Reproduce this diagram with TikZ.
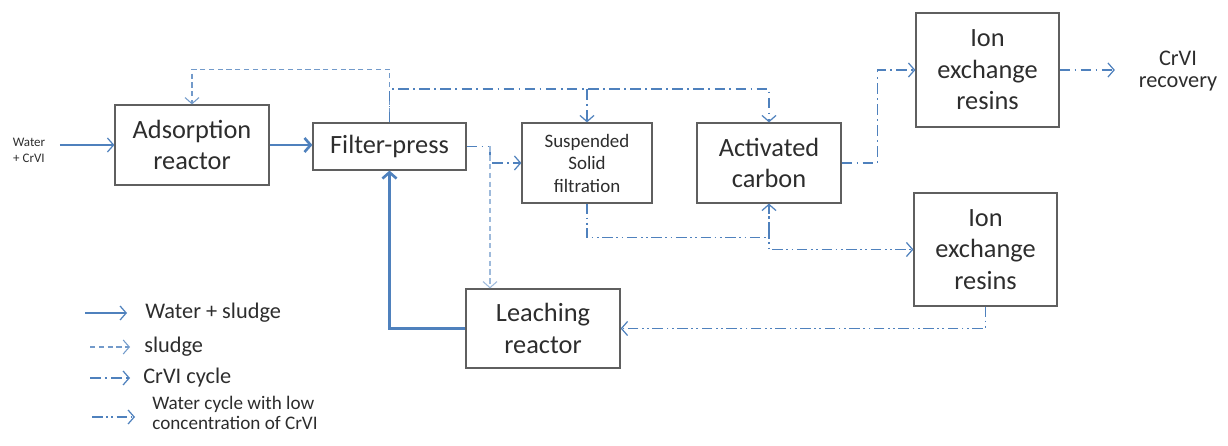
\documentclass[tikz,border=0pt]{standalone}
\usepackage{fontspec}
\setmainfont{Carlito}
\usetikzlibrary{arrows.meta}
\definecolor{flowblue}{RGB}{79,129,189}
\definecolor{boxgray}{RGB}{95,95,95}
\definecolor{txtgray}{RGB}{45,45,45}

\begin{document}
\begin{tikzpicture}[x=0.02cm,y=-0.02cm,
    box/.style={draw=boxgray,line width=0.7pt,align=center,text=txtgray,
        font=\fontsize{15}{18}\selectfont,inner sep=1pt},
    tip/.style={-{Straight Barb[length=3.5pt,width=8pt]}},
    water/.style={tip,draw=flowblue,line width=0.7pt},
    thickwater/.style={water,line width=1.5pt},
    sludge/.style={tip,draw=flowblue!80,line width=0.6pt,dash pattern=on 3pt off 2pt},
    crvi/.style={tip,draw=flowblue,line width=0.7pt,dash pattern=on 6pt off 2.5pt on 1pt off 2.5pt},
    lowcr/.style={tip,draw=flowblue,line width=0.7pt,dash pattern=on 6pt off 2pt on 1pt off 2pt on 1pt off 2pt},
    legtext/.style={anchor=west,text=txtgray,inner sep=0pt,align=left,
        font=\fontsize{12.7}{14}\selectfont}]
    \useasboundingbox (0,0) rectangle (1228,446);

    % process boxes
    \node[box,minimum width=3.08cm,minimum height=1.6cm] (ads) at (192,145) {Adsorption\\reactor};
    \node[box,minimum width=3.06cm,minimum height=0.94cm] (fp) at (389.5,146.5) {Filter-press};
    \node[box,minimum width=2.6cm,minimum height=1.6cm,font=\fontsize{10.8}{12.8}\selectfont] (ss) at (587,163) {Suspended\\Solid\\filtration};
    \node[box,minimum width=2.88cm,minimum height=1.6cm] (carbon) at (769,163) {Activated\\carbon};
    \node[box,minimum width=2.86cm,minimum height=2.28cm] (ion1) at (987.5,70) {Ion\\exchange\\resins};
    \node[box,minimum width=2.86cm,minimum height=2.26cm] (ion2) at (985.5,249.5) {Ion\\exchange\\resins};
    \node[box,minimum width=3.08cm,minimum height=1.58cm] (leach) at (543,328.5) {Leaching\\reactor};

    % in and out
    \node[align=center,text=txtgray,inner sep=1pt,font=\fontsize{7.4}{9}\selectfont] (input) at (29,150) {Water\\+ CrVI};
    \node[align=center,text=txtgray,inner sep=2pt,font=\fontsize{12.7}{13}\selectfont] (rec) at (1178,71) {CrVI\\recovery};

    % flows
    \draw[water,shorten <=0.25cm] (input.east |- ads.west) -- (ads.west);
    \draw[thickwater] (ads.east) -- (ads.east -| fp.west);
    \draw[sludge] (fp.north) -- ++(0,-53) -| (ads.north);
    \coordinate (topline) at (0,89);
    \draw[crvi] (fp.north) -- (fp.north |- topline) -| (carbon.north);
    \draw[crvi] (ss.north |- topline) -- (ss.north);
    \coordinate (split) at (490,146.5);
    \draw[crvi] (fp.east) -- (split) |- (ss.west);
    \draw[sludge,draw=flowblue!55] (split) -- (split |- leach.north);
    \draw[lowcr] (ss.south) -- ++(0,34) -| (carbon.south);
    \draw[lowcr] (carbon.south) |- (ion2.west);
    \draw[crvi] (carbon.east) -- ++(36,0) |- (ion1.west);
    \draw[crvi,shorten >=0.4cm] (ion1.east) -- (rec.west |- ion1.east);
    \draw[lowcr] (ion2.south) |- (leach.east);
    \draw[thickwater] (leach.west) -| (fp.south);

    % legend
    \node[legtext] (lg1) at (145,313) {Water + sludge};
    \node[legtext] (lg2) at (144,347) {sludge};
    \node[legtext] (lg3) at (143,378) {CrVI cycle};
    \node[legtext,font=\fontsize{10.9}{11.5}\selectfont] (lg4) at (152,413) {Water cycle with low\\concentration of CrVI};
    \coordinate (l1a) at (85,313);
    \coordinate (l2a) at (90,347);
    \coordinate (l3a) at (90,378);
    \coordinate (l4a) at (92,417);
    \draw[water,shorten >=0.36cm] (l1a) -- (l1a -| lg1.west);
    \draw[sludge,shorten >=0.28cm] (l2a) -- (l2a -| lg2.west);
    \draw[crvi,shorten >=0.26cm] (l3a) -- (l3a -| lg3.west);
    \draw[lowcr,shorten >=0.34cm] (l4a) -- (l4a -| lg4.west);
\end{tikzpicture}
\end{document}
